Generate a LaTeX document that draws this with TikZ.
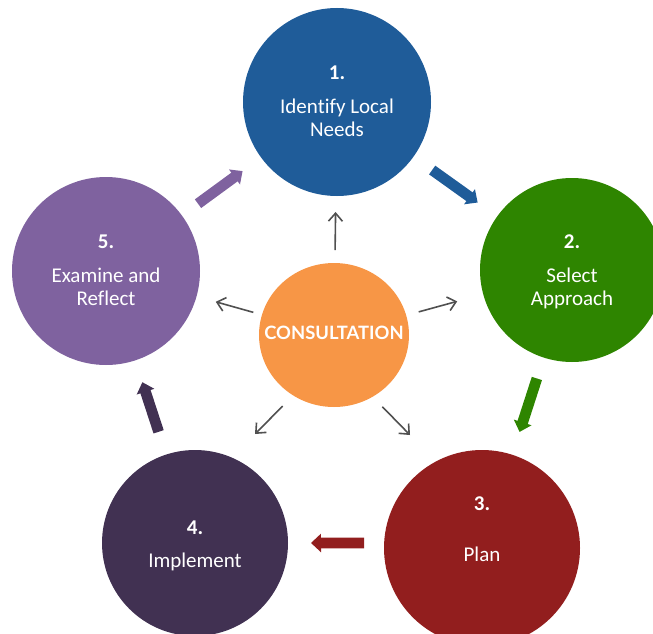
\documentclass[tikz,border=0pt]{standalone}
\usepackage{fontspec}
\setmainfont{Carlito}[Ligatures=NoCommon]
\newfontfamily\consfont{Lato}
\usetikzlibrary{arrows.meta,shapes.geometric}
\definecolor{cblue}{HTML}{1F5C99}
\definecolor{cgreen}{HTML}{2E8500}
\definecolor{cred}{HTML}{921E1E}
\definecolor{cdark}{HTML}{413152}
\definecolor{cpurple}{HTML}{7F629F}
\definecolor{corange}{HTML}{F79646}
\definecolor{cgrey}{HTML}{505050}
\tikzset{
  stage/.style={circle,fill=#1,text=white,inner sep=0pt,outer sep=0pt,align=center,font=\fontsize{21}{23}\selectfont},
  hub/.style={ellipse,fill=corange,text=white,inner sep=0pt,outer sep=0pt,minimum width=150pt,minimum height=144pt,font=\consfont\bfseries\fontsize{18.4}{20}\selectfont},
  cyclearrow/.style={draw=#1,line width=10.7pt,-{Triangle[width=18pt,length=10pt,fill=#1]}},
  spoke/.style={draw=cgrey,line width=1.6pt,-{Straight Barb[length=8pt,width=14pt,line width=1.6pt]}}
}
\begin{document}
\begin{tikzpicture}[x=1pt,y=-1pt]
\useasboundingbox (0,0) rectangle (653,634);
\clip (0,0) rectangle (653,634);
\node[stage=cblue,minimum size=188pt] (n1) at (337,102) {\textbf{1.}\\[11pt]Identify Local\\Needs\rule[-2pt]{0pt}{0pt}};
\node[stage=cgreen,minimum size=184pt] (n2) at (572,270) {\rule{0pt}{17.3pt}\textbf{2.}\\[11pt]Select\\Approach};
\node[stage=cred,minimum size=196pt] (n3) at (482,548) {\textbf{3.}\\[28pt]Plan\\[14pt]\mbox{}};
\node[stage=cdark,minimum size=186pt] (n4) at (195,543) {\rule{0pt}{19.3pt}\textbf{4.}\\[10pt]Implement};
\node[stage=cpurple,minimum size=188pt] (n5) at (106,271) {\textbf{5.}\\[11pt]Examine and\\Reflect\rule[-2pt]{0pt}{0pt}};
\node[hub] (n0) at (334,335) {\makebox[0pt]{\raisebox{5pt}{CONSULTATION}}};
\coordinate (c3) at (410,435);
\coordinate (c4) at (255,434);
\draw[cyclearrow=cblue,shorten <=23pt,shorten >=24pt] (n1) -- (n2);
\draw[cyclearrow=cgreen,shorten <=22pt,shorten >=24pt] (n2) -- (n3);
\draw[cyclearrow=cred,shorten <=20pt,shorten >=23pt] (n3.177) -- (n4.east);
\draw[cyclearrow=cdark,shorten <=24pt,shorten >=23pt] (n4) -- (n5);
\draw[cyclearrow=cpurple,shorten <=20pt,shorten >=23pt] (n5) -- (n1);
\draw[spoke,shorten <=13pt,shorten >=16pt] (n0) -- (n1);
\draw[spoke,shorten <=13pt,shorten >=27pt] (n0) -- (n2);
\draw[spoke,shorten <=14pt] (n0.-58.5) -- (c3);
\draw[spoke,shorten <=15pt] (n0.236) -- (c4);
\draw[spoke,shorten <=9pt,shorten >=20pt] (n0) -- (n5);
\end{tikzpicture}
\end{document}
